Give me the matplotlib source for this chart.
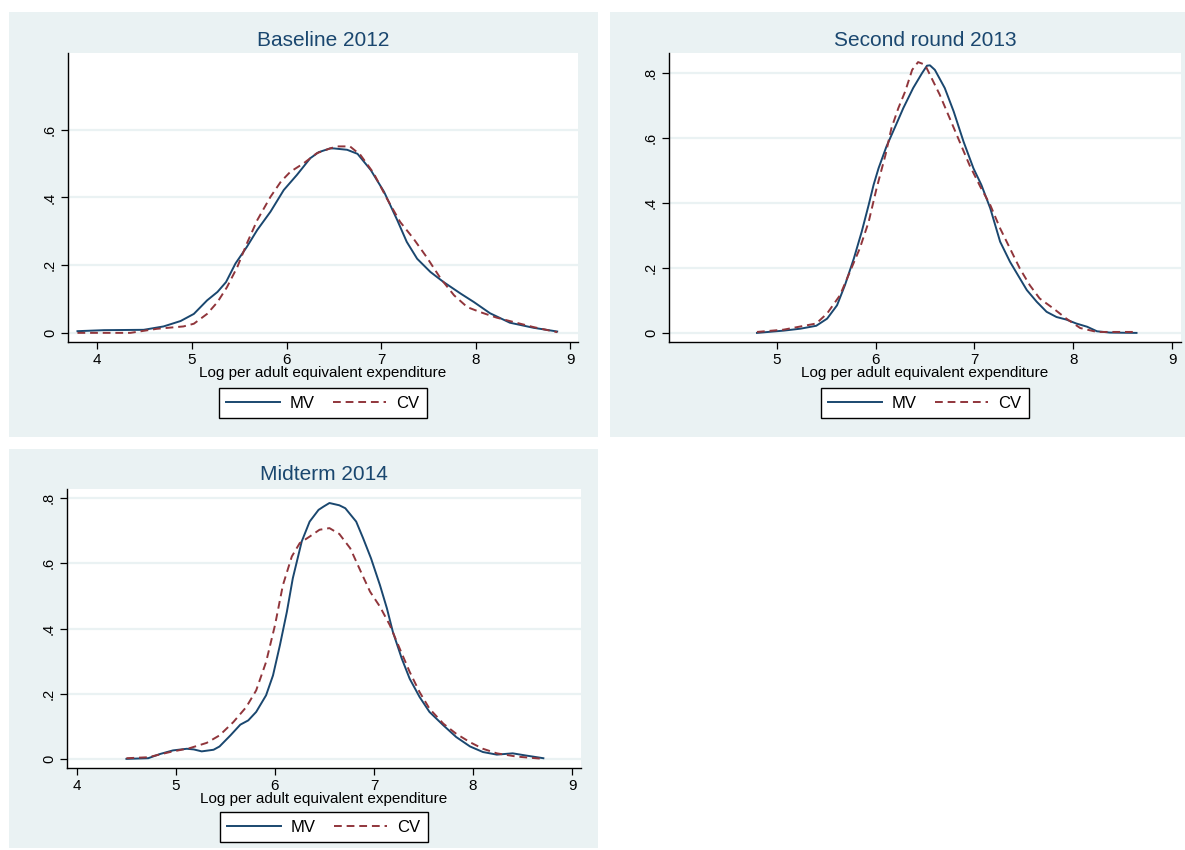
import matplotlib
matplotlib.use("Agg")
import matplotlib.pyplot as plt
from matplotlib.patches import Rectangle

plt.rcParams['font.family'] = ['Liberation Sans', 'DejaVu Sans']

# ---------------- data ----------------
titles = ["Baseline 2012", "Second round 2013", "Midterm 2014"]
xlabel = "Log per adult equivalent expenditure"
series_names = ["MV", "CV"]

p1_mv_x = [3.79, 4.07, 4.49, 4.70, 4.88, 5.02, 5.16, 5.27, 5.36, 5.46, 5.58, 5.69, 5.83, 5.97, 6.11,
           6.25, 6.34, 6.46, 6.50, 6.64, 6.75, 6.89, 7.03, 7.17, 7.27, 7.38, 7.52, 7.66, 7.84, 7.98,
           8.15, 8.36, 8.61, 8.86]
p1_mv_y = [0.005, 0.008, 0.009, 0.019, 0.035, 0.056, 0.096, 0.121, 0.150, 0.205, 0.254, 0.304, 0.358,
           0.422, 0.467, 0.516, 0.534, 0.545, 0.545, 0.541, 0.529, 0.481, 0.417, 0.333, 0.269, 0.219,
           0.180, 0.150, 0.116, 0.091, 0.058, 0.030, 0.015, 0.004]
p1_cv_x = [3.79, 4.35, 4.63, 4.91, 5.02, 5.16, 5.27, 5.37, 5.48, 5.58, 5.69, 5.83, 5.94, 6.04, 6.18,
           6.32, 6.46, 6.53, 6.67, 6.78, 6.92, 7.06, 7.20, 7.34, 7.48, 7.63, 7.77, 7.91, 8.05, 8.22,
           8.40, 8.61, 8.86]
p1_cv_y = [0.0, 0.0, 0.012, 0.019, 0.027, 0.056, 0.091, 0.135, 0.195, 0.264, 0.333, 0.402, 0.447,
           0.476, 0.501, 0.531, 0.545, 0.551, 0.551, 0.526, 0.472, 0.397, 0.328, 0.279, 0.224, 0.160,
           0.111, 0.076, 0.061, 0.045, 0.032, 0.017, 0.002]

p2_mv_x = [4.80, 5.07, 5.24, 5.40, 5.51, 5.61, 5.69, 5.78, 5.86, 5.93, 5.98, 6.03, 6.11, 6.20, 6.28,
           6.38, 6.47, 6.52, 6.55, 6.60, 6.70, 6.79, 6.89, 6.99, 7.07, 7.16, 7.26, 7.36, 7.44, 7.53,
           7.63, 7.73, 7.83, 7.93, 8.03, 8.14, 8.24, 8.37, 8.64]
p2_mv_y = [0.0, 0.007, 0.013, 0.022, 0.044, 0.085, 0.147, 0.229, 0.312, 0.394, 0.456, 0.507, 0.574,
           0.636, 0.692, 0.754, 0.800, 0.823, 0.824, 0.810, 0.754, 0.682, 0.589, 0.507, 0.456, 0.384,
           0.281, 0.219, 0.178, 0.132, 0.096, 0.065, 0.049, 0.041, 0.029, 0.019, 0.005, 0.001, 0.0]
p2_cv_x = [4.80, 5.07, 5.40, 5.51, 5.64, 5.74, 5.84, 5.93, 6.01, 6.10, 6.16, 6.23, 6.30, 6.37, 6.43,
           6.50, 6.55, 6.65, 6.75, 6.85, 6.95, 7.06, 7.16, 7.26, 7.36, 7.46, 7.56, 7.66, 7.80, 7.93,
           8.07, 8.24, 8.64]
p2_cv_y = [0.003, 0.010, 0.029, 0.060, 0.116, 0.188, 0.260, 0.342, 0.445, 0.548, 0.630, 0.692, 0.744,
           0.810, 0.834, 0.826, 0.795, 0.733, 0.661, 0.589, 0.517, 0.450, 0.394, 0.322, 0.260, 0.198,
           0.147, 0.106, 0.075, 0.044, 0.015, 0.003, 0.003]

p3_mv_x = [4.50, 4.72, 4.84, 4.97, 5.11, 5.18, 5.26, 5.38, 5.44, 5.55, 5.65, 5.73, 5.81, 5.91, 5.98,
           6.05, 6.12, 6.18, 6.27, 6.35, 6.44, 6.49, 6.55, 6.65, 6.71, 6.82, 6.89, 6.97, 7.06, 7.13,
           7.19, 7.28, 7.36, 7.46, 7.56, 7.70, 7.83, 7.97, 8.10, 8.24, 8.40, 8.54, 8.71]
p3_mv_y = [0.0, 0.002, 0.015, 0.026, 0.031, 0.029, 0.023, 0.028, 0.038, 0.072, 0.105, 0.118, 0.144,
           0.195, 0.256, 0.349, 0.451, 0.554, 0.667, 0.728, 0.764, 0.774, 0.785, 0.778, 0.769, 0.728,
           0.677, 0.615, 0.533, 0.462, 0.390, 0.308, 0.246, 0.190, 0.144, 0.103, 0.067, 0.038, 0.021,
           0.013, 0.017, 0.010, 0.002]
p3_cv_x = [4.50, 4.72, 4.94, 5.14, 5.31, 5.44, 5.58, 5.71, 5.81, 5.91, 6.00, 6.08, 6.17, 6.25, 6.35,
           6.45, 6.55, 6.65, 6.76, 6.86, 6.96, 7.06, 7.16, 7.26, 7.36, 7.46, 7.56, 7.70, 7.83, 7.97,
           8.10, 8.24, 8.44, 8.71]
p3_cv_y = [0.002, 0.005, 0.021, 0.033, 0.049, 0.072, 0.113, 0.159, 0.210, 0.297, 0.410, 0.533, 0.621,
           0.662, 0.682, 0.703, 0.708, 0.690, 0.646, 0.579, 0.513, 0.467, 0.410, 0.338, 0.267, 0.205,
           0.154, 0.108, 0.077, 0.051, 0.031, 0.017, 0.007, 0.0]

p1_yticks = [0, 0.2, 0.4, 0.6]
p23_yticks = [0, 0.2, 0.4, 0.6, 0.8]
ytick_labels_all = ["0", ".2", ".4", ".6", ".8"]
p13_xticks = [4, 5, 6, 7, 8, 9]
p2_xticks = [5, 6, 7, 8, 9]

# ---------------- style ----------------
W, H = 1185, 850
BG = "#EAF2F3"
NAVY = "#1A476F"
MAROON = "#90353B"

fig = plt.figure(figsize=(W / 100, H / 100), dpi=100)
fig.patch.set_facecolor("white")

def px_rect(x0, y0, x1, y1):
    return [x0 / W, 1 - y1 / H, (x1 - x0) / W, (y1 - y0) / H]

panels = [
    dict(bg=(9, 12, 598, 437), ax=(68, 53, 578, 342), xlim=(3.69, 9.08), ylim=(-0.027, 0.827),
         yt=p1_yticks, xt=p13_xticks, title_y=40, leg_y=403,
         mv=(p1_mv_x, p1_mv_y), cv=(p1_cv_x, p1_cv_y)),
    dict(bg=(610, 12, 1185, 437), ax=(669, 53, 1181, 342), xlim=(3.91, 9.09), ylim=(-0.028, 0.862),
         yt=p23_yticks, xt=p2_xticks, title_y=40, leg_y=403,
         mv=(p2_mv_x, p2_mv_y), cv=(p2_cv_x, p2_cv_y)),
    dict(bg=(9, 449, 598, 848), ax=(67, 489, 581, 768), xlim=(3.90, 9.09), ylim=(-0.028, 0.828),
         yt=p23_yticks, xt=p13_xticks, title_y=475, leg_y=827,
         mv=(p3_mv_x, p3_mv_y), cv=(p3_cv_x, p3_cv_y)),
]

for i, p in enumerate(panels):
    bx0, by0, bx1, by1 = p["bg"]
    fig.patches.append(Rectangle((bx0 / W, 1 - by1 / H), (bx1 - bx0) / W, (by1 - by0) / H,
                                 transform=fig.transFigure, facecolor=BG, edgecolor="none",
                                 zorder=-5))
    ax = fig.add_axes(px_rect(*p["ax"]))
    ax.set_zorder(1)
    ax.set_facecolor("white")
    ax.set_xlim(*p["xlim"])
    ax.set_ylim(*p["ylim"])
    for yv in p["yt"]:
        ax.axhline(yv, color=BG, lw=1.6, zorder=1)
    l1, = ax.plot(p["mv"][0], p["mv"][1], color=NAVY, lw=1.4, zorder=3, label=series_names[0],
                  solid_joinstyle="round")
    l2, = ax.plot(p["cv"][0], p["cv"][1], color=MAROON, lw=1.4, ls=(0, (4, 2.5)), zorder=3,
                  label=series_names[1])
    ax.set_yticks(p["yt"])
    ax.set_yticklabels(ytick_labels_all[:len(p["yt"])], rotation=90, va="center", fontsize=10.5)
    ax.set_xticks(p["xt"])
    ax.set_xticklabels([str(v) for v in p["xt"]], fontsize=11)
    ax.tick_params(axis="both", direction="out", length=5, width=0.9, color="black", pad=3)
    for s in ["top", "right"]:
        ax.spines[s].set_visible(False)
    for s in ["left", "bottom"]:
        ax.spines[s].set_color("black")
        ax.spines[s].set_linewidth(1.0)
    ax.set_xlabel(xlabel, fontsize=11, labelpad=-1)
    cx = (p["ax"][0] + p["ax"][2]) / 2
    fig.text(cx / W, 1 - p["title_y"] / H, titles[i], ha="center", va="center",
             fontsize=15, color=NAVY)
    leg = fig.legend([l1, l2], series_names, loc="center", ncol=2,
                     bbox_to_anchor=(cx / W, 1 - p["leg_y"] / H), frameon=True, fancybox=False,
                     edgecolor="black", facecolor="white", framealpha=1, fontsize=12,
                     handlelength=3.2, columnspacing=1.1, handletextpad=0.6, borderpad=0.45,
                     borderaxespad=0)
    leg.get_frame().set_linewidth(1.0)

fig.savefig("out.png", dpi=100, facecolor="white")
